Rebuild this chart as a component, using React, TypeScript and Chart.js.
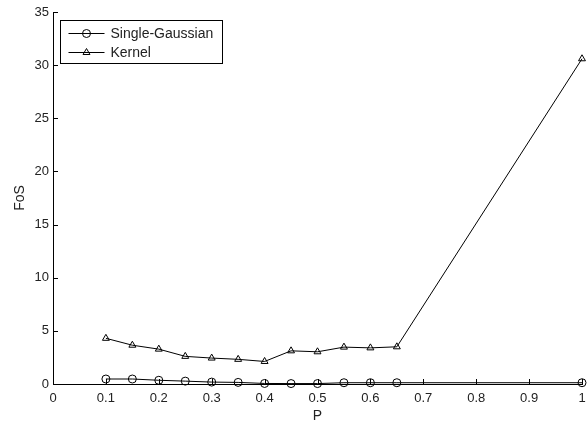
import { useEffect, useRef } from "react";
import { Chart, registerables } from "chart.js";
import { drawPoint } from "chart.js/helpers";

Chart.register(...registerables);

// data
const pValues = [0.1, 0.15, 0.2, 0.25, 0.3, 0.35, 0.4, 0.45, 0.5, 0.55, 0.6, 0.65, 1.0];
const gaussianFoS = [0.47, 0.47, 0.35, 0.27, 0.18, 0.15, 0.05, 0.04, 0.04, 0.12, 0.12, 0.12, 0.12];
const kernelFoS = [4.3, 3.65, 3.28, 2.6, 2.44, 2.32, 2.12, 3.12, 3.03, 3.47, 3.4, 3.5, 30.6];
const seriesNames = ["Single-Gaussian", "Kernel"];
const markerStyles = ["circle", "triangle"];

const FONT = "'Liberation Sans', Arial, sans-serif";

// ticks point into the plot, like the original
const inwardTicks = {
  id: "inwardTicks",
  afterDraw(chart) {
    const { ctx, chartArea, scales } = chart;
    ctx.save();
    ctx.strokeStyle = "#000";
    ctx.lineWidth = 1;
    ctx.beginPath();
    scales.x.ticks.forEach((t) => {
      const px = Math.round(scales.x.getPixelForValue(t.value)) + 0.5;
      ctx.moveTo(px, chartArea.bottom);
      ctx.lineTo(px, chartArea.bottom - 5);
    });
    scales.y.ticks.forEach((t) => {
      const py = Math.round(scales.y.getPixelForValue(t.value)) + 0.5;
      ctx.moveTo(chartArea.left, py);
      ctx.lineTo(chartArea.left + 5, py);
    });
    ctx.stroke();
    ctx.restore();
  },
};

// boxed legend with line + marker samples
const boxLegend = {
  id: "boxLegend",
  afterDraw(chart) {
    const { ctx, chartArea } = chart;
    const x0 = chartArea.left + 7.5;
    const y0 = chartArea.top + 8.5;
    const w = 162;
    const h = 43;
    ctx.save();
    ctx.fillStyle = "#fff";
    ctx.fillRect(x0, y0, w, h);
    ctx.strokeStyle = "#000";
    ctx.lineWidth = 1;
    ctx.strokeRect(x0, y0, w, h);
    ctx.font = "14px " + FONT;
    ctx.textBaseline = "middle";
    chart.data.datasets.forEach((ds, i) => {
      const cy = Math.round(y0 + 12 + i * 19) + 0.5;
      ctx.beginPath();
      ctx.moveTo(x0 + 8, cy);
      ctx.lineTo(x0 + 44, cy);
      ctx.stroke();
      ctx.fillStyle = "rgba(0,0,0,0)";
      drawPoint(ctx, { pointStyle: ds.pointStyle, radius: 4, borderWidth: 1, rotation: 0 }, x0 + 26, cy);
      ctx.fillStyle = "#222";
      ctx.fillText(ds.label, x0 + 50, cy + 1);
    });
    ctx.restore();
  },
};

export default function App() {
  const canvasRef = useRef(null);

  useEffect(() => {
    document.body.style.margin = "0";
    const ctx = canvasRef.current.getContext("2d");
    const series = [gaussianFoS, kernelFoS];

    const chart = new Chart(ctx, {
      type: "line",
      data: {
        datasets: series.map((vals, i) => ({
          label: seriesNames[i],
          data: pValues.map((p, j) => ({ x: p, y: vals[j] })),
          borderColor: "#000",
          borderWidth: 1,
          pointStyle: markerStyles[i],
          pointRadius: 4,
          pointBorderColor: "#000",
          pointBackgroundColor: "transparent",
          pointBorderWidth: 1,
          tension: 0,
          clip: false,
        })),
      },
      options: {
        responsive: false,
        animation: false,
        layout: { padding: { top: 12, right: 5, left: 12, bottom: 0 } },
        plugins: {
          legend: { display: false },
          tooltip: { enabled: false },
        },
        scales: {
          x: {
            type: "linear",
            min: 0,
            max: 1,
            grid: { display: false, drawTicks: false },
            border: { display: true, color: "#000", width: 1 },
            ticks: {
              stepSize: 0.1,
              padding: 7,
              color: "#222",
              font: { family: FONT, size: 13 },
              maxRotation: 0,
              callback: (v) => String(Math.round(Number(v) * 10) / 10),
            },
            title: {
              display: true,
              text: "P",
              color: "#222",
              font: { family: FONT, size: 14 },
              padding: { top: 0, bottom: 0 },
            },
            afterFit: (scale) => {
              scale.height = 41;
              scale.paddingRight = 0;
            },
          },
          y: {
            min: 0,
            max: 35,
            grid: { display: false, drawTicks: false },
            border: { display: true, color: "#000", width: 1 },
            ticks: {
              stepSize: 5,
              padding: 4,
              color: "#222",
              font: { family: FONT, size: 13 },
            },
            title: {
              display: true,
              text: "FoS",
              color: "#222",
              font: { family: FONT, size: 14 },
              padding: { top: 0, bottom: 4 },
            },
            afterFit: (scale) => {
              scale.width = 41;
            },
          },
        },
      },
      plugins: [inwardTicks, boxLegend],
    });

    return () => {
      chart.destroy();
    };
  }, []);

  return <canvas ref={canvasRef} width={587} height={425}></canvas>;
}
